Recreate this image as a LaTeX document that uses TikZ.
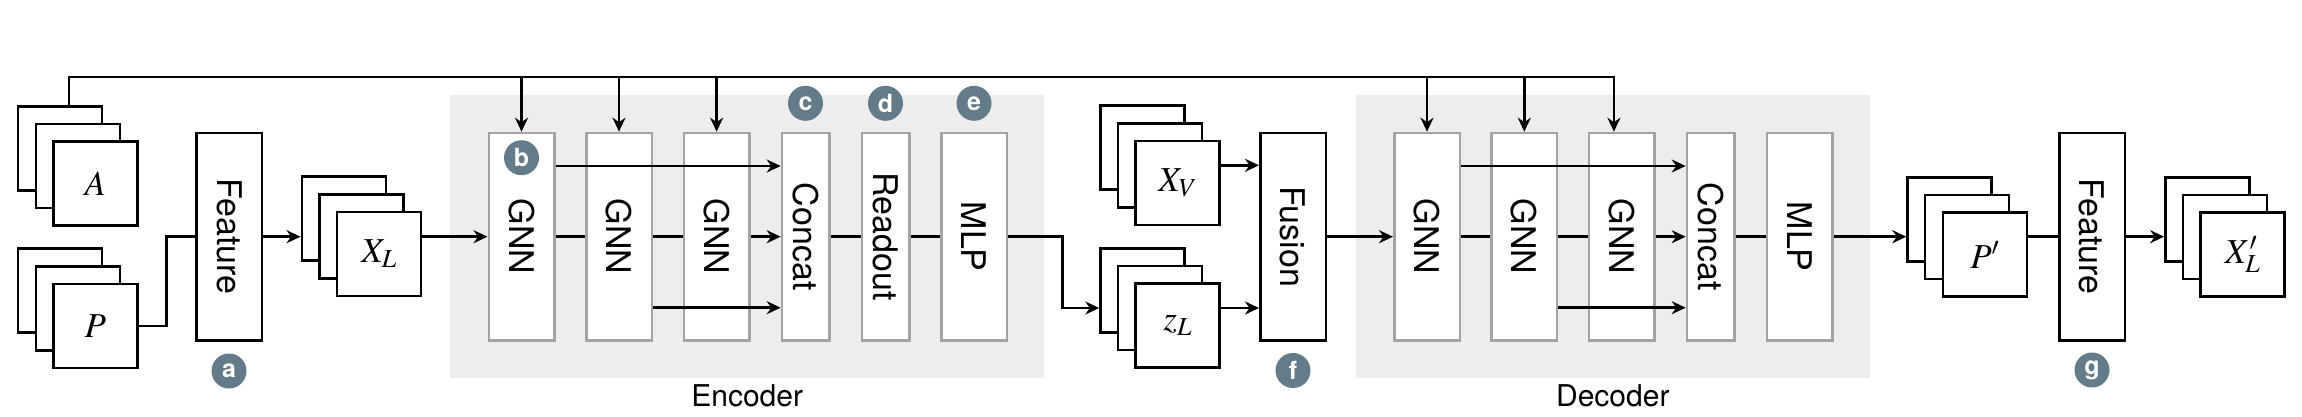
\documentclass[tikz,border=0pt]{standalone}
\usepackage{mathptmx}
\usepackage{fontspec}
\setsansfont{TeX Gyre Heros}
\usetikzlibrary{arrows.meta,calc,positioning}
\definecolor{panelgray}{HTML}{EDEDED}
\definecolor{boxgray}{HTML}{A3A3A3}
\definecolor{badgeblue}{HTML}{647C8A}

\begin{document}
\begin{tikzpicture}[x=1pt,y=-1pt,>={Stealth[length=14pt,width=13pt]},line width=2.5pt,
  sheet/.style={draw,fill=white,minimum size=84pt,inner sep=0pt,font=\fontsize{35}{35}\selectfont},
  blk/.style={draw,fill=white,minimum width=65.5pt,minimum height=207.5pt,inner sep=0pt},
  mod/.style={blk,draw=boxgray},
  thinmod/.style={mod,minimum width=47.5pt},
  lbl/.style={rotate=-90,inner sep=0pt,font=\sffamily\fontsize{34}{34}\selectfont},
  badge/.style={circle,fill=badgeblue,text=white,minimum size=35pt,inner sep=0pt,font=\sffamily\bfseries\fontsize{25}{25}\selectfont},
  panel/.style={fill=panelgray,inner sep=0pt},
  partlbl/.style={font=\sffamily\fontsize{30}{30}\selectfont}]
\useasboundingbox (0,0) rectangle (2302,416);

% grey panels
\node[panel,minimum width=593.5pt,minimum height=283.3pt] (enc) at (747.2,236.7) {};
\node[panel,minimum width=513.6pt,minimum height=283.3pt] (dec) at (1612.8,236.7) {};
\node[partlbl] (encl) at (747.2,395.4) {Encoder};
\node[partlbl] (decl) at (1612.8,395.4) {Decoder};

% stacks of sheets
\foreach \n/\x/\y/\t in {A/95.4/183.7/{$A$}, P/95.4/326/{$P$}, XL/379/254/{$X_L$},
    XV/1177.7/183/{$X_V$}, zL/1177.7/325.7/{$z_L$}, Pd/1984.8/254.7/{$P'$}, XLd/2242.6/254.7/{$X'_L$}} {
  \foreach \k in {2,1}
    \node[sheet] (\n\k) at (\x-\k*17.6,\y-\k*17.7) {};
  \node[sheet] (\n) at (\x,\y) {\t};
}

% blocks
\node[blk,label={[lbl]center:Feature}] (feat) at (229.3,236.7) {};
\node[mod,label={[lbl]center:GNN}] (e1) at (521.5,236.7) {};
\node[mod,label={[lbl]center:GNN}] (e2) at (619,236.7) {};
\node[mod,label={[lbl]center:GNN}] (e3) at (716.6,236.7) {};
\node[thinmod,label={[lbl]center:Concat}] (ecat) at (805.7,236.7) {};
\node[thinmod,label={[lbl]center:Readout}] (eread) at (885.7,236.7) {};
\node[mod,label={[lbl]center:MLP}] (emlp) at (974.3,236.7) {};
\node[blk,label={[lbl]center:Fusion}] (fus) at (1293,236.7) {};
\node[mod,label={[lbl]center:GNN}] (d1) at (1427,236.7) {};
\node[mod,label={[lbl]center:GNN}] (d2) at (1524.3,236.7) {};
\node[mod,label={[lbl]center:GNN}] (d3) at (1621.9,236.7) {};
\node[thinmod,label={[lbl]center:Concat}] (dcat) at (1710.7,236.7) {};
\node[mod,label={[lbl]center:MLP}] (dmlp) at (1799.6,236.7) {};
\node[blk,label={[lbl]center:Feature}] (feat2) at (2092,236.7) {};

% top bus from A
\coordinate (bus) at (69,77);
\draw[->] (bus |- A2.north) -- (bus) -| ([xshift=-8pt]d3.north);
\foreach \m in {e1,e2,e3,d1,d2}
  \draw[->] (bus -| \m.north) -- (\m.north);

% encoder
\draw (P.east) -- ++(28,0) |- (feat.west);
\draw[->] (feat.east) -- (feat.east -| XL2.west);
\draw[->] (XL.east |- e1.west) -- (e1.west);
\draw (e1.east) -- (e2.west) (e2.east) -- (e3.west);
\draw[->] (e3.east) -- (ecat.west);
\draw (ecat.east) -- (eread.west) (eread.east) -- (emlp.west);
\draw[->] ([yshift=70.7pt]e1.east) -- ([yshift=70.7pt]ecat.west);
\draw[->] ([yshift=-71pt]e2.east) -- ([yshift=-71pt]ecat.west);
\draw[->] (emlp.east) -- ++(54,0) |- (zL2.west |- zL1);

% fusion and decoder
\draw[->] (XV.east |- XV1) -- (fus.west |- XV1);
\draw[->] (zL.east |- zL1) -- (fus.west |- zL1);
\draw[->] (fus.east) -- (d1.west);
\draw (d1.east) -- (d2.west) (d2.east) -- (d3.west);
\draw[->] (d3.east) -- (dcat.west);
\draw (dcat.east) -- (dmlp.west);
\draw[->] ([yshift=70.7pt]d1.east) -- ([yshift=70.7pt]dcat.west);
\draw[->] ([yshift=-71pt]d2.east) -- ([yshift=-71pt]dcat.west);
\draw[->] (dmlp.east) -- (dmlp.east -| Pd2.west);
\draw (Pd.east |- feat2.west) -- (feat2.west);
\draw[->] (feat2.east) -- (feat2.east -| XLd2.west);

% badges
\node[badge] (ba) at (229,371) {a};
\node[badge] (bb) at (521.5,157.7) {b};
\node[badge] (bc) at (805.5,103.3) {c};
\node[badge] (bd) at (885.5,103.3) {d};
\node[badge] (be) at (974,103.3) {e};
\node[badge] (bf) at (1293,370.5) {f};
\node[badge] (bg) at (2092,370) {g};
\end{tikzpicture}
\end{document}
